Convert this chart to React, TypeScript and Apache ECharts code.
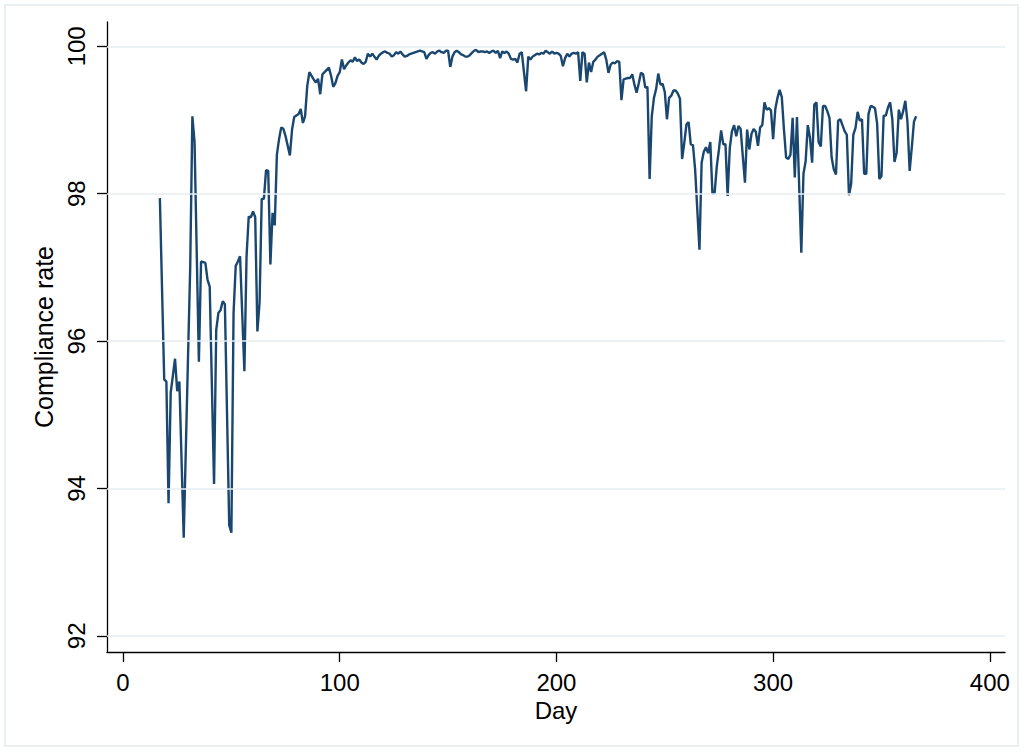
import React, { useEffect, useRef } from "react";
import * as echarts from "echarts";

const xTicks = [0, 100, 200, 300, 400];
const yTicks = [92, 94, 96, 98, 100];
const xTitle = "Day";
const yTitle = "Compliance rate";

// [day, compliance rate]
const dayRate: [number, number][] = [
  [17,97.94],[19,95.48],[20,95.45],[21,93.8],[22,95.3],[24,95.76],[25,95.32],[26,95.45],[28,93.33],[30,95.8],
  [31,97.0],[32,99.05],[33,98.7],[35,95.72],[36,97.08],[37,97.07],[38,97.06],[39,96.83],[40,96.74],[42,94.06],
  [43,96.15],[44,96.38],[45,96.42],[46,96.54],[47,96.5],[49,93.5],[50,93.4],[51,96.38],[52,97.02],[53,97.08],
  [54,97.15],[56,95.59],[57,97.15],[58,97.69],[59,97.68],[60,97.76],[61,97.68],[62,96.13],[63,96.52],[64,97.93],
  [65,97.93],[66,98.32],[67,98.31],[68,97.04],[69,97.74],[70,97.57],[71,98.53],[72,98.74],[73,98.9],[74,98.88],
  [75,98.78],[77,98.52],[78,98.87],[79,99.04],[80,99.06],[81,99.08],[82,99.15],[83,98.96],[84,99.05],[85,99.46],
  [86,99.65],[87,99.6],[88,99.55],[89,99.51],[90,99.56],[91,99.35],[92,99.62],[93,99.65],[95,99.71],[96,99.6],
  [97,99.45],[98,99.5],[99,99.6],[100,99.65],[101,99.82],[102,99.69],[103,99.74],[104,99.78],[105,99.81],[106,99.79],
  [107,99.85],[108,99.8],[109,99.82],[110,99.78],[111,99.76],[112,99.79],[113,99.9],[114,99.86],[115,99.9],[116,99.86],
  [117,99.82],[118,99.87],[119,99.9],[120,99.92],[121,99.93],[122,99.91],[123,99.9],[124,99.86],[125,99.88],[126,99.92],
  [127,99.9],[128,99.93],[129,99.89],[130,99.86],[131,99.87],[132,99.89],[133,99.9],[134,99.91],[135,99.92],[136,99.93],
  [137,99.94],[138,99.93],[139,99.92],[140,99.83],[141,99.88],[142,99.91],[143,99.92],[144,99.9],[145,99.93],[146,99.94],
  [147,99.92],[148,99.91],[149,99.94],[150,99.94],[151,99.72],[152,99.86],[153,99.92],[154,99.94],[155,99.92],[156,99.89],
  [157,99.88],[158,99.86],[159,99.86],[160,99.88],[161,99.91],[162,99.94],[163,99.95],[164,99.92],[165,99.93],[166,99.93],
  [167,99.92],[168,99.93],[169,99.91],[170,99.93],[171,99.94],[172,99.91],[173,99.94],[174,99.84],[175,99.93],[176,99.91],
  [177,99.93],[178,99.9],[179,99.83],[180,99.82],[181,99.83],[182,99.78],[183,99.9],[184,99.92],[186,99.39],[187,99.86],
  [188,99.82],[189,99.86],[190,99.88],[191,99.9],[192,99.89],[193,99.91],[194,99.9],[195,99.94],[196,99.92],[197,99.9],
  [198,99.93],[199,99.9],[200,99.91],[201,99.9],[202,99.87],[203,99.73],[204,99.84],[205,99.9],[206,99.86],[207,99.9],
  [208,99.91],[209,99.9],[210,99.92],[211,99.53],[212,99.92],[213,99.9],[214,99.51],[215,99.78],[216,99.65],[217,99.79],
  [218,99.82],[219,99.86],[220,99.88],[221,99.9],[222,99.92],[223,99.82],[224,99.64],[225,99.75],[226,99.78],[227,99.77],
  [228,99.8],[229,99.79],[230,99.27],[231,99.55],[232,99.56],[233,99.57],[234,99.57],[235,99.62],[236,99.48],[237,99.37],
  [238,99.5],[239,99.64],[240,99.62],[241,99.44],[242,99.45],[243,98.2],[244,99.05],[245,99.3],[246,99.42],[247,99.63],
  [248,99.48],[249,99.49],[250,99.38],[251,99.01],[252,99.3],[253,99.33],[254,99.4],[255,99.4],[256,99.36],[257,99.29],
  [258,98.47],[259,98.69],[260,98.94],[261,98.97],[262,98.67],[263,98.66],[264,98.33],[266,97.24],[267,98.42],[268,98.57],
  [269,98.63],[270,98.55],[271,98.7],[272,98.0],[273,98.01],[274,98.37],[275,98.6],[276,98.86],[277,98.67],[278,98.67],
  [279,97.97],[280,98.62],[281,98.85],[282,98.93],[283,98.78],[284,98.92],[285,98.88],[286,98.51],[287,98.15],[288,98.87],
  [289,98.6],[290,98.81],[291,98.88],[292,98.84],[293,98.65],[294,98.9],[295,98.93],[296,99.24],[297,99.14],[298,99.16],
  [299,99.13],[300,98.74],[301,99.15],[302,99.3],[303,99.41],[304,99.31],[305,98.87],[306,98.49],[307,98.47],[308,98.53],
  [309,99.03],[310,98.22],[311,99.04],[313,97.2],[314,98.27],[315,98.44],[316,98.93],[317,98.76],[318,98.42],[319,99.21],
  [320,99.24],[321,98.7],[322,98.64],[323,99.19],[324,99.19],[325,99.12],[326,99.03],[327,98.49],[328,98.33],[329,98.26],
  [330,98.99],[331,99.01],[332,98.93],[333,98.85],[334,98.8],[335,97.98],[336,98.13],[337,98.8],[338,98.89],[339,99.11],
  [340,98.99],[341,99.01],[342,98.27],[343,98.27],[344,99.08],[345,99.19],[346,99.18],[347,99.16],[348,98.95],[349,98.2],
  [350,98.24],[351,99.06],[352,99.06],[353,99.17],[354,99.24],[355,99.01],[356,98.43],[357,98.56],[358,99.14],[359,99.01],
  [360,99.12],[361,99.26],[362,98.97],[363,98.31],[364,98.63],[365,98.98],[366,99.05],
];

const FONT = "'Liberation Sans', Arial, Helvetica, sans-serif";

export default function App() {
  const ref = useRef<HTMLDivElement>(null);
  useEffect(() => {
    if (!ref.current) return;
    const chart = echarts.init(ref.current, null, { renderer: "svg" });
    const axisLineStyle = { color: "#000", width: 1.3 };
    chart.setOption({
      animation: false,
      backgroundColor: "#fff",
      textStyle: { fontFamily: FONT },
      graphic: [
        {
          type: "rect",
          shape: { x: 5, y: 5, width: 1013, height: 741 },
          style: { fill: "none", stroke: "#e4eaee", lineWidth: 1.5 },
          silent: true,
        },
      ],
      grid: { left: 107, right: 19, top: 22, bottom: 99, containLabel: false },
      xAxis: {
        type: "value",
        min: -7.4,
        max: 407,
        name: xTitle,
        nameLocation: "middle",
        nameGap: 42,
        nameTextStyle: { fontSize: 24, color: "#000", fontFamily: FONT },
        axisLine: { show: true, onZero: false, lineStyle: axisLineStyle },
        axisTick: { show: true, length: 10, customValues: xTicks, lineStyle: axisLineStyle },
        axisLabel: { customValues: xTicks, fontSize: 24, color: "#000", margin: 18, fontFamily: FONT },
        splitLine: { show: false },
      },
      yAxis: {
        type: "value",
        min: 91.78,
        max: 100.33,
        name: yTitle,
        nameLocation: "middle",
        nameGap: 44,
        nameRotate: 90,
        nameTextStyle: { fontSize: 25, color: "#000", fontFamily: FONT },
        axisLine: { show: true, onZero: false, lineStyle: axisLineStyle },
        axisTick: { show: true, length: 10, customValues: yTicks, lineStyle: axisLineStyle },
        axisLabel: { customValues: yTicks, rotate: 90, fontSize: 24, color: "#000", margin: 19, fontFamily: FONT },
        splitLine: { show: false },
      },
      series: [
        {
          type: "line",
          data: [],
          z: 1,
          silent: true,
          markLine: {
            silent: true,
            symbol: ["none", "none"],
            label: { show: false },
            lineStyle: { color: "#e6eef0", width: 1.5, type: "solid" },
            data: yTicks.map((v) => ({ yAxis: v })),
          },
        },
        {
          type: "line",
          data: dayRate,
          z: 3,
          showSymbol: false,
          symbol: "none",
          lineStyle: { color: "#1a476f", width: 2.4 },
        },
      ],
    });
    return () => chart.dispose();
  }, []);
  return (
    <div
      ref={ref}
      style={{ position: "absolute", left: 0, top: 0, width: 1024, height: 751 }}
    />
  );
}
